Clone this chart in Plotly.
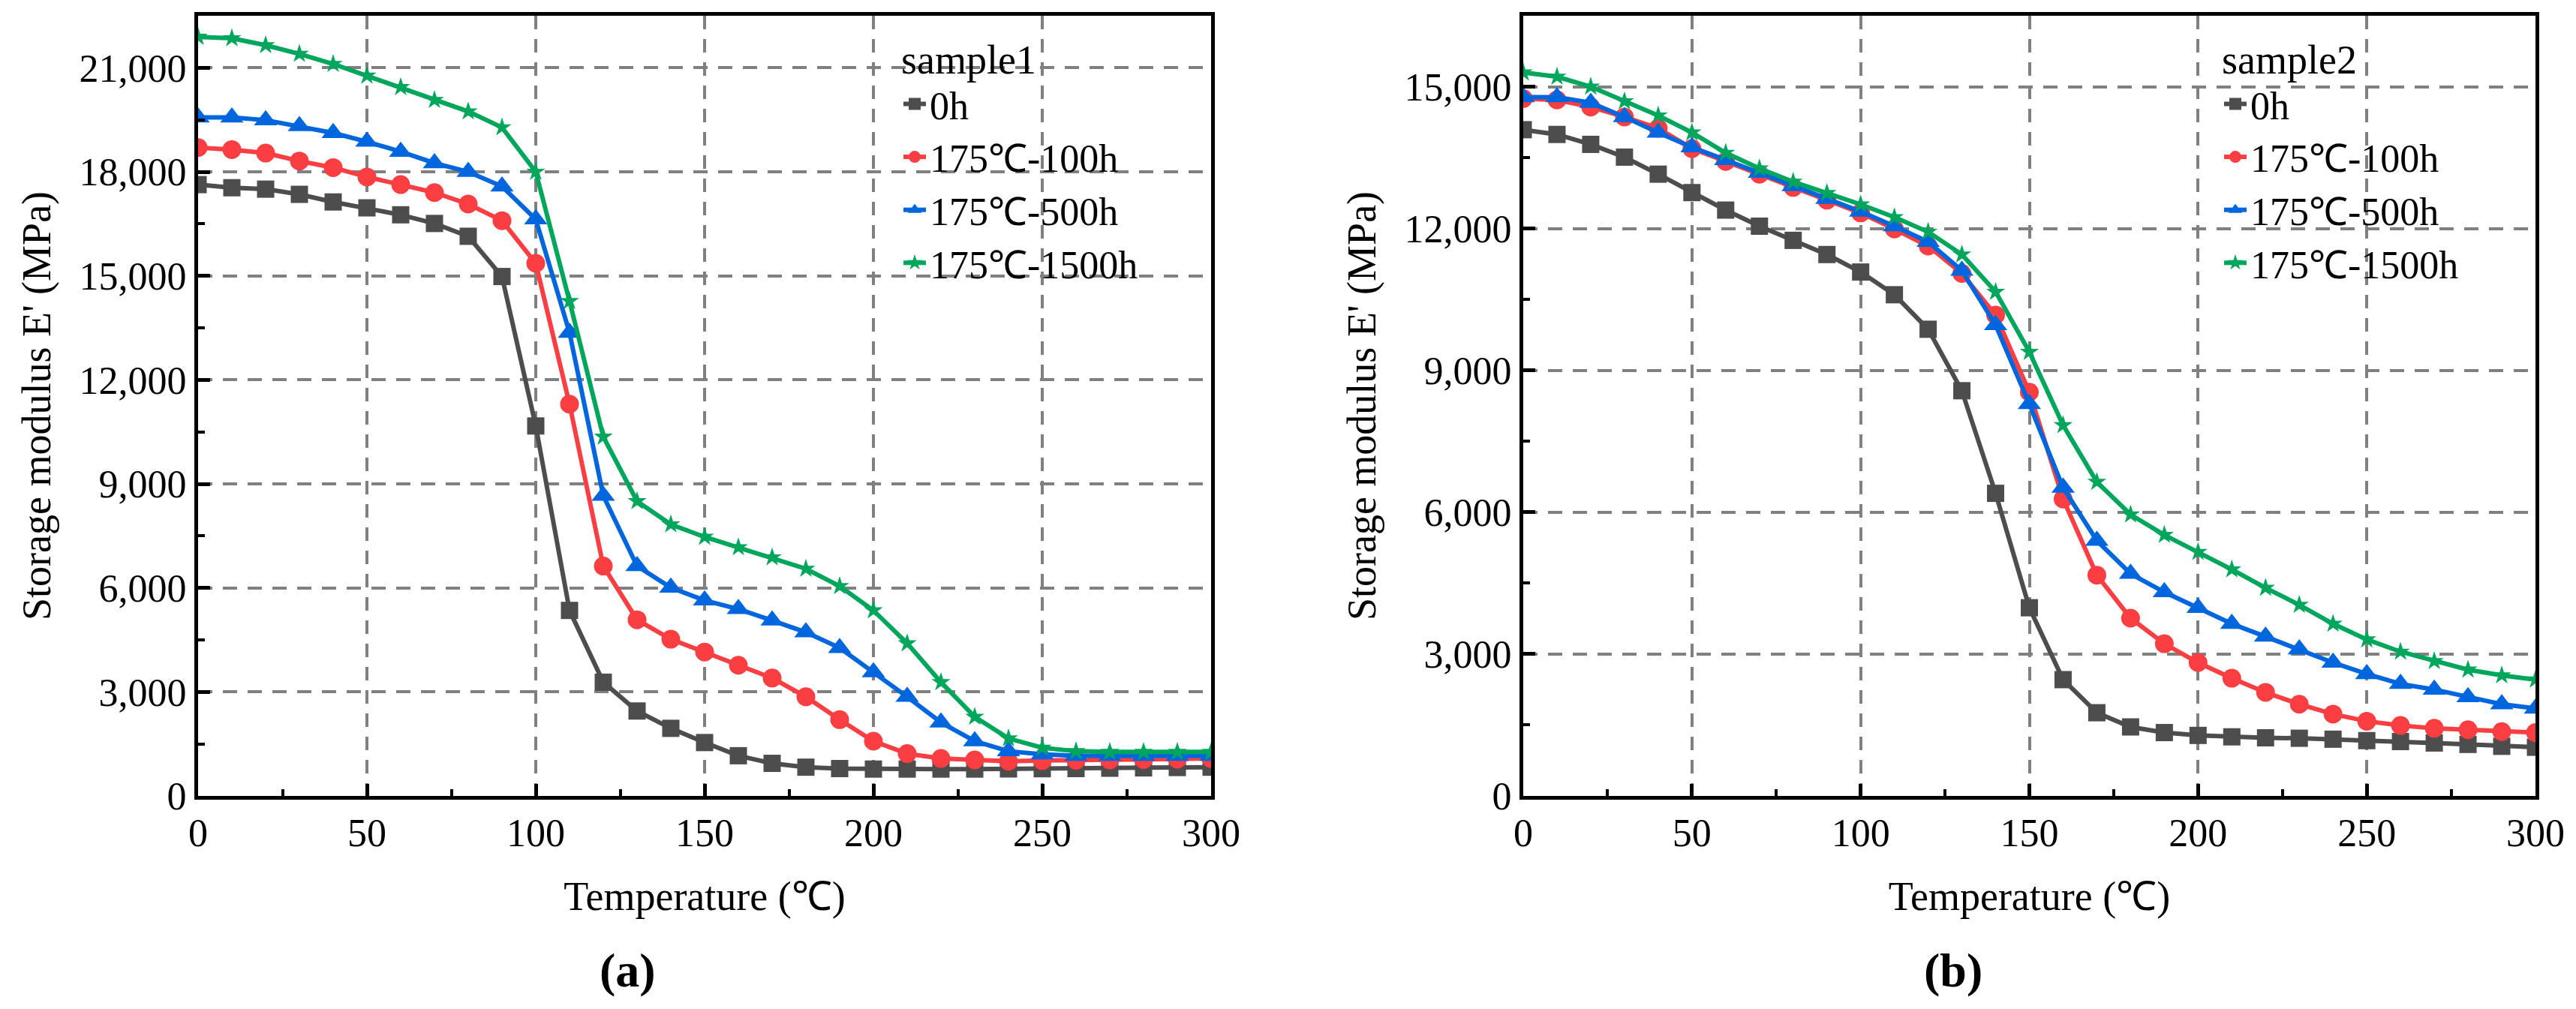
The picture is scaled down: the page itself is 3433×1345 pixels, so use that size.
import plotly.graph_objects as go

# ---------------- data ----------------
temperature = list(range(0, 301, 10))

series_names = ["0h", "175℃-100h", "175℃-500h", "175℃-1500h"]

s1_0h = [17630, 17540, 17500, 17350, 17130, 16960, 16760, 16510, 16140, 14980,
         10670, 5350, 3280, 2450, 1950, 1540, 1160, 940, 830, 790,
         775, 775, 775, 775, 780, 785, 790, 800, 810, 820, 830]
s1_100h = [18700, 18640, 18540, 18310, 18120, 17850, 17630, 17400, 17070, 16590,
           15360, 11300, 6630, 5080, 4520, 4150, 3770, 3400, 2860, 2200,
           1580, 1220, 1080, 1040, 1000, 1020, 1030, 1040, 1050, 1060, 1080]
s1_500h = [19570, 19570, 19490, 19320, 19120, 18870, 18580, 18250, 18000, 17580,
           16630, 13360, 8660, 6630, 6010, 5640, 5390, 5060, 4720, 4270,
           3570, 2860, 2120, 1580, 1290, 1200, 1160, 1160, 1160, 1160, 1160]
s1_1500h = [21890, 21850, 21650, 21400, 21110, 20770, 20440, 20070, 19740, 19280,
            18000, 14270, 10360, 8500, 7830, 7470, 7170, 6880, 6550, 6050,
            5350, 4400, 3280, 2280, 1660, 1390, 1290, 1270, 1270, 1270, 1270]

s2_0h = [14090, 13990, 13780, 13510, 13150, 12760, 12390, 12050, 11750, 11450,
         11080, 10600, 9870, 8570, 6400, 3980, 2460, 1760, 1460, 1340,
         1280, 1250, 1230, 1220, 1200, 1170, 1150, 1120, 1090, 1050, 1030]
s2_100h = [14750, 14720, 14570, 14360, 14120, 13690, 13420, 13150, 12870, 12600,
           12330, 11990, 11630, 11050, 10170, 8540, 6280, 4670, 3760, 3220,
           2820, 2490, 2190, 1940, 1730, 1580, 1490, 1430, 1400, 1360, 1340]
s2_500h = [14780, 14780, 14660, 14360, 14030, 13720, 13450, 13180, 12900, 12630,
           12360, 12050, 11720, 11110, 9960, 8290, 6520, 5400, 4700, 4310,
           3980, 3640, 3370, 3100, 2820, 2580, 2370, 2250, 2090, 1940, 1850]
s2_1500h = [15300, 15210, 15000, 14690, 14390, 14030, 13600, 13270, 12990, 12750,
            12510, 12240, 11930, 11450, 10660, 9390, 7840, 6640, 5950, 5520,
            5160, 4790, 4400, 4040, 3640, 3310, 3050, 2850, 2670, 2550, 2460]

y1_ticks = [0, 3000, 6000, 9000, 12000, 15000, 18000, 21000]
y2_ticks = [0, 3000, 6000, 9000, 12000, 15000]
x_ticks = [0, 50, 100, 150, 200, 250, 300]

# ---------------- style ----------------
colors = ["#4D4D4D", "#FA3E42", "#0066DD", "#00A65C"]
symbols = ["square", "circle", "triangle-up", "star"]
marker_sizes = [23, 25, 27, 19]
FONT = "Liberation Serif"

W, H = 3433, 1345
ML, MR, MT, MB = 264, 54, 21, 284
plot_w = W - ML - MR
plot_h = H - MT - MB

fig = go.Figure()

panels = [
    ("x", "y", "legend", [s1_0h, s1_100h, s1_500h, s1_1500h]),
    ("x2", "y2", "legend2", [s2_0h, s2_100h, s2_500h, s2_1500h]),
]
for xa, ya, lg, data in panels:
    for name, vals, c, sym, ms in zip(series_names, data, colors, symbols, marker_sizes):
        fig.add_trace(go.Scatter(
            x=temperature, y=vals, name=name, mode="lines+markers",
            xaxis=xa, yaxis=ya, legend=lg,
            line=dict(color=c, width=6),
            marker=dict(symbol=sym, size=ms, color=c, line=dict(width=0)),
        ))

tick_font = dict(family=FONT, size=52, color="black")
title_font = dict(family=FONT, size=54, color="black")

def xaxis_cfg(domain, anchor):
    return dict(
        domain=domain, anchor=anchor, range=[0, 300],
        tickmode="array", tickvals=x_ticks,
        ticks="inside", ticklen=16, tickwidth=5, tickcolor="black",
        minor=dict(dtick=25, tick0=0, ticks="inside", ticklen=9, tickwidth=4,
                   tickcolor="black", showgrid=False),
        showline=True, linewidth=5, linecolor="black", mirror=True,
        showgrid=True, gridcolor="#808080", gridwidth=3.5, griddash="18px,13px",
        zeroline=False, tickfont=tick_font,
        title=dict(text="Temperature (℃)", font=title_font, standoff=38),
    )

def yaxis_cfg(rng, tickvals, anchor):
    return dict(
        domain=[0, 1], anchor=anchor, range=rng,
        tickmode="array", tickvals=tickvals, tickformat=",d",
        ticks="inside", ticklen=16, tickwidth=5, tickcolor="black",
        minor=dict(dtick=1500, tick0=0, ticks="inside", ticklen=9, tickwidth=4,
                   tickcolor="black", showgrid=False),
        showline=True, linewidth=5, linecolor="black", mirror=True,
        showgrid=True, gridcolor="#808080", gridwidth=3.5, griddash="19px,14px",
        zeroline=False, tickfont=tick_font,
        title=dict(text="Storage modulus E' (MPa)", font=title_font, standoff=22),
    )

d1 = [0, (1614 - ML) / plot_w]
d2 = [(2030 - ML) / plot_w, 1]

legend_top = 1 - (28 - MT) / plot_h


def legend_cfg(title, x_px):
    return dict(
        title=dict(text=title, font=dict(family=FONT, size=54, color="black")),
        x=(x_px - ML) / plot_w, y=legend_top,
        xanchor="left", yanchor="top", bgcolor="rgba(0,0,0,0)",
        font=dict(family=FONT, size=52, color="black"),
        tracegroupgap=0, itemsizing="trace", itemwidth=30,
    )


fig.update_layout(
    width=W, height=H,
    margin=dict(l=ML, r=MR, t=MT, b=MB, pad=0),
    paper_bgcolor="white", plot_bgcolor="white",
    font=dict(family=FONT, size=52, color="black"),
    xaxis=xaxis_cfg(d1, "y"),
    yaxis=yaxis_cfg([0, 22500], y1_ticks, "x"),
    xaxis2=xaxis_cfg(d2, "y2"),
    yaxis2=yaxis_cfg([0, 16500], y2_ticks, "x2"),
    legend=legend_cfg("sample1", 1199),
    legend2=legend_cfg("sample2", 2959),
    annotations=[
        dict(text="<b>(a)</b>", x=(836 - ML) / plot_w, y=(H - MB - 1293) / plot_h,
             xref="paper", yref="paper", xanchor="center", yanchor="middle",
             showarrow=False, font=dict(family=FONT, size=64, color="black")),
        dict(text="<b>(b)</b>", x=(2603 - ML) / plot_w, y=(H - MB - 1293) / plot_h,
             xref="paper", yref="paper", xanchor="center", yanchor="middle",
             showarrow=False, font=dict(family=FONT, size=64, color="black")),
    ],
)

fig.write_html("out.html")
